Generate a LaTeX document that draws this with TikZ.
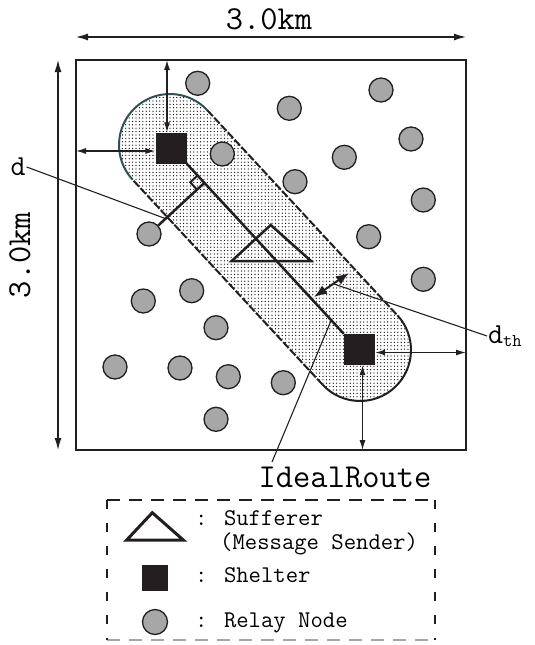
\documentclass[tikz,border=0pt]{standalone}
\usepackage{fontspec}
\usetikzlibrary{calc,arrows.meta,patterns.meta}
\definecolor{relayfill}{HTML}{A7A7A7}
\definecolor{inkc}{HTML}{231F20}
\definecolor{tealc}{HTML}{2E5252}
\tikzdeclarepattern{name=capdots, type=uncolored,
  bounding box={(-1.7pt,-1.7pt) and (1.7pt,1.7pt)},
  tile size={(3.4pt,3.4pt)},
  code={\fill (0pt,0pt) circle (0.65pt);}}
\begin{document}
\begin{tikzpicture}[x=1pt,y=-1pt,
  relay/.style={circle,minimum size=24pt,inner sep=0pt,fill=relayfill,draw=inkc,line width=1.3pt},
  shelter/.style={rectangle,minimum size=31pt,inner sep=0pt,fill=inkc},
  dimarrow/.style={line width=1.2pt,draw=inkc,{Latex[length=12pt,width=7pt]}-{Latex[length=12pt,width=7pt]}},
  smallarrow/.style={line width=1.2pt,draw=inkc,{Latex[length=10pt,width=6pt]}-{Latex[length=10pt,width=6pt]}},
  bigarrow/.style={line width=2pt,draw=inkc,{Latex[length=13pt,width=10pt]}-{Latex[length=13pt,width=10pt]}},
  routeline/.style={line width=2.5pt,draw=inkc},
  leader/.style={line width=1.1pt,draw=inkc},
  capside/.style={line width=2pt,draw=inkc,dash pattern=on 8pt off 2pt},
  bigtxt/.style={font=\ttfamily\fontsize{33.5}{36}\selectfont,inner sep=0pt},
  legtxt/.style={font=\ttfamily\fontsize{24}{27}\selectfont,inner sep=0pt,anchor=base west},
]
\path[use as bounding box] (0,0) rectangle (535,645);

% capsule geometry
\coordinate (UR1) at (207.4,110.33);
\coordinate (UR2) at (397.4,315.33);
\coordinate (LL1) at (132.6,179.67);
\coordinate (LL2) at (322.6,384.67);
\fill[pattern=capdots, pattern color=black]
  (UR1) -- (UR2) arc[start angle=-42.83, end angle=137.17, radius=51]
  -- (LL1) arc[start angle=137.17, end angle=317.17, radius=51] -- cycle;
\draw[tealc, line width=2pt] (LL1) arc[start angle=137.17, end angle=317.17, radius=51];
\draw[inkc, line width=2pt] (UR2) arc[start angle=-42.83, end angle=137.17, radius=51];
\draw[capside] (UR1) -- (UR2);
\draw[capside] (LL2) -- (LL1);

% field border
\coordinate (BNW) at (76,60);
\coordinate (BSE) at (466,450);
\draw[inkc, line width=1.3pt] (BNW) rectangle (BSE);

% shelters
\node[shelter] (S1) at (171,148) {};
\node[shelter] (S2) at (359.5,349.5) {};

% relay nodes
\node[relay] (r1) at (197.7,83.3) {};
\node[relay] (r2) at (289.3,108.3) {};
\node[relay] (r3) at (381,90) {};
\node[relay] (r4) at (411,139) {};
\node[relay] (r6) at (344.3,157.3) {};
\node[relay] (r7) at (295,181.7) {};
\node[relay] (r8) at (423.3,200) {};
\node[relay] (r9) at (368.7,236.7) {};
\node[relay] (r10) at (423.3,279.3) {};
\node[relay] (r11) at (149,234) {};
\node[relay] (r12) at (191.7,290.7) {};
\node[relay] (r13) at (143.3,301) {};
\node[relay] (r14) at (216,327.7) {};
\node[relay] (r15) at (115,367) {};
\node[relay] (r16) at (180,368) {};
\node[relay] (r17) at (228.3,376.7) {};
\node[relay] (r18) at (283.3,382.7) {};
\node[relay] (r19) at (216,419.3) {};

% ideal route
\draw[routeline] (S1.south east) -- (S2.north west);
\coordinate (F) at ($(S1.south east)!(r11)!(S2.north west)$);
\draw[routeline] (r11) -- (F);
\coordinate (M1) at ($(F)!10pt!(S1.south east)$);
\coordinate (M3) at ($(F)!10pt!(r11)$);
\draw[inkc, line width=2pt] (M1) -- ($(M1)+(M3)-(F)$) -- (M3);

% relay over capsule
\node[relay] (r5) at (222.3,154) {};

% sufferer
\coordinate (T1) at (231.7,261);
\coordinate (T2) at (270.7,225);
\coordinate (T3) at (311,261);
\draw[routeline, line join=miter] (T1) -- (T2) -- (T3) -- cycle;

% d_th arrow
\coordinate (D1) at (314,297);
\coordinate (D2) at (349,273);
\draw[bigarrow] (D1) -- (D2);

% dimension arrows
\coordinate (TL) at (76,37);
\coordinate (TR) at (466,37);
\draw[dimarrow] (TL) -- (TR);
\node[bigtxt] (wlab) at (269,19) {3.0km};
\coordinate (LT) at (58,60);
\coordinate (LB) at (58,450);
\draw[dimarrow] (LT) -- (LB);
\node[bigtxt, rotate=90] (hlab) at (20,255) {3.0km};

% shelter distance arrows
\coordinate (S1t) at ($(S1.north)+(-4,0)$);
\draw[smallarrow] (S1t |- BNW) -- (S1t);
\coordinate (S1l) at ($(S1.west)+(0,3)$);
\draw[smallarrow] (BNW |- S1l) -- (S1l);
\coordinate (S2r) at ($(S2.east)+(0,3)$);
\draw[smallarrow] (S2r) -- (BSE |- S2r);
\coordinate (S2b) at ($(S2.south)+(3,0)$);
\draw[smallarrow] (S2b) -- (S2b |- BSE);

% labels and leaders
\node[font=\ttfamily\fontsize{29}{32}\selectfont, inner sep=1pt] (dlab) at (18,167) {d};
\coordinate (dend) at ($(r11)!0.3!(F)$);
\draw[leader] (dlab.east) -- (dend);
\node[font=\ttfamily\fontsize{29}{32}\selectfont, inner sep=1pt, anchor=west] (dthlab) at (487,336)
  {d\raisebox{-3pt}{\fontsize{18}{20}\selectfont th}};
\coordinate (dthend) at ($(D1)!0.55!(D2)$);
\draw[leader] (dthlab.west) -- (dthend);
\node[bigtxt] (irlab) at (345,477) {IdealRoute};
\coordinate (irstart) at ($(S1.south east)!0.92!(S2.north west)$);
\coordinate (irend) at (272,462);
\draw[leader] (irstart) -- (irend);

% legend box
\coordinate (LG1) at (107,500);
\coordinate (LG2) at (435,640);
\draw[inkc, line width=1.2pt, dash pattern=on 13pt off 9pt] (LG1) -- (LG1 -| LG2);
\draw[black!35, line width=1.2pt, dash pattern=on 13pt off 9pt] (LG1 |- LG2) -- (LG2);
\draw[inkc, line width=1.2pt, dash pattern=on 9pt off 14pt] (LG1) -- (LG1 |- LG2);
\draw[inkc, line width=1.2pt, dash pattern=on 9pt off 14pt] (LG1 -| LG2) -- (LG2);

% legend entries
\coordinate (LT1) at (126.7,540);
\coordinate (LT2) at (152.3,512.7);
\coordinate (LT3) at (183.3,540);
\draw[line width=3pt, draw=inkc, line join=miter] (LT1) -- (LT2) -- (LT3) -- cycle;
\node[legtxt] (lg1) at (195,525.5) {: Sufferer};
\node[legtxt] (lg2) at (220,549) {(Message Sender)};
\node[shelter, minimum size=26pt] (lgS) at (155,578) {};
\node[legtxt] (lg3) at (195,582) {: Shelter};
\node[relay, minimum size=25pt] (lgR) at (155,622) {};
\node[legtxt] (lg4) at (195,627) {: Relay Node};
\end{tikzpicture}
\end{document}
